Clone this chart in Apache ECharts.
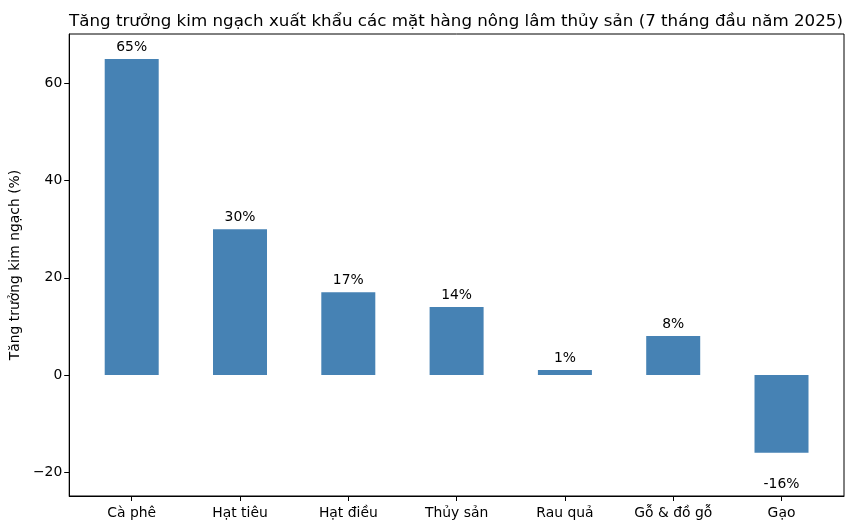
<!DOCTYPE html>
<html>
<head>
<meta charset="utf-8">
<script src="https://cdn.jsdelivr.net/npm/echarts@6/dist/echarts.min.js"></script>
<style>html,body{margin:0;padding:0;background:#fff;}#c{width:854px;height:532px;}</style>
</head>
<body>
<div id="c"></div>
<script>
const categories = ["Cà phê", "Hạt tiêu", "Hạt điều", "Thủy sản", "Rau quả", "Gỗ & đồ gỗ", "Gạo"];
const growth = [65, 30, 17, 14, 1, 8, -16];
const yTicks = [-20, 0, 20, 40, 60];
const titleText = "Tăng trưởng kim ngạch xuất khẩu các mặt hàng nông lâm thủy sản (7 tháng đầu năm 2025)";
const yName = "Tăng trưởng kim ngạch (%)";

const font = "DejaVu Sans";
const chart = echarts.init(document.getElementById('c'), null, {renderer: 'canvas'});
const idx = categories.map((_, i) => i);
chart.setOption({
  animation: false,
  backgroundColor: '#fff',
  title: {
    text: titleText, left: 451, textAlign: 'center', top: 8,
    textStyle: {fontFamily: font, fontSize: 16.7, fontWeight: 'normal', color: '#000'}
  },
  grid: {left: 69, right: 10, top: 34, bottom: 36, show: true, borderColor: '#000', borderWidth: 1, backgroundColor: 'transparent'},
  xAxis: {
    type: 'value', min: -0.577, max: 6.577,
    splitLine: {show: false},
    axisLine: {show: true, onZero: false, lineStyle: {color: '#000', width: 1}},
    axisTick: {show: true, length: 5, lineStyle: {color: '#000'}, customValues: idx},
    axisLabel: {customValues: idx, color: '#000', fontFamily: font, fontSize: 13.9, margin: 10,
      formatter: v => categories[Math.round(v)] || ''}
  },
  yAxis: {
    type: 'value', min: -24.9, max: 70.15,
    name: yName, nameLocation: 'middle', nameGap: 42, nameRotate: 90,
    nameTextStyle: {fontFamily: font, fontSize: 13.9, color: '#000'},
    splitLine: {show: false},
    axisLine: {show: true, onZero: false, lineStyle: {color: '#000', width: 1}},
    axisTick: {show: true, length: 5, lineStyle: {color: '#000'}, customValues: yTicks},
    axisLabel: {customValues: yTicks, color: '#000', fontFamily: font, fontSize: 13.9, margin: 7,
      formatter: v => (v < 0 ? '\u2212' + Math.abs(v) : String(v))}
  },
  series: [{
    type: 'bar',
    barWidth: 54,
    data: growth.map((v, i) => ({
      value: [i, v],
      label: {show: true, position: v >= 0 ? 'top' : 'bottom', distance: v >= 0 ? 5 : 25,
        formatter: v + '%', color: '#000', fontFamily: font, fontSize: 13.9}
    })),
    itemStyle: {color: '#4682B4'}
  }]
});
</script>
</body>
</html>
